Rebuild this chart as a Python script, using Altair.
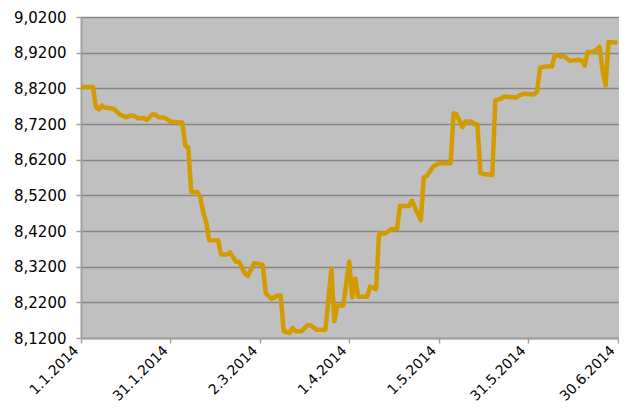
import altair as alt
import pandas as pd

dates = [
    "2014-01-01", "2014-01-05", "2014-01-06", "2014-01-07", "2014-01-08", "2014-01-09",
    "2014-01-12", "2014-01-14", "2014-01-16", "2014-01-18", "2014-01-19", "2014-01-20",
    "2014-01-22", "2014-01-23", "2014-01-25", "2014-01-26", "2014-01-27", "2014-01-29",
    "2014-01-31", "2014-02-03", "2014-02-04", "2014-02-05", "2014-02-06", "2014-02-07",
    "2014-02-09", "2014-02-10", "2014-02-11", "2014-02-12", "2014-02-13", "2014-02-16",
    "2014-02-17", "2014-02-19", "2014-02-20", "2014-02-22", "2014-02-23", "2014-02-25",
    "2014-02-26", "2014-02-28", "2014-03-01", "2014-03-03", "2014-03-04", "2014-03-06",
    "2014-03-08", "2014-03-09", "2014-03-10", "2014-03-12", "2014-03-13", "2014-03-14",
    "2014-03-16", "2014-03-18", "2014-03-19", "2014-03-21", "2014-03-24", "2014-03-26",
    "2014-03-27", "2014-03-28", "2014-03-30", "2014-04-01", "2014-04-02", "2014-04-03",
    "2014-04-04", "2014-04-07", "2014-04-08", "2014-04-10", "2014-04-11", "2014-04-13",
    "2014-04-15", "2014-04-17", "2014-04-18", "2014-04-21", "2014-04-22", "2014-04-25",
    "2014-04-26", "2014-04-27", "2014-04-29", "2014-05-01", "2014-05-05", "2014-05-06",
    "2014-05-07", "2014-05-09", "2014-05-10", "2014-05-12", "2014-05-13", "2014-05-14",
    "2014-05-15", "2014-05-16", "2014-05-19", "2014-05-20", "2014-05-22", "2014-05-23",
    "2014-05-27", "2014-05-28", "2014-05-30", "2014-06-02", "2014-06-03", "2014-06-04",
    "2014-06-06", "2014-06-08", "2014-06-09", "2014-06-11", "2014-06-12", "2014-06-14",
    "2014-06-17", "2014-06-18", "2014-06-19", "2014-06-20", "2014-06-22", "2014-06-24",
    "2014-06-25", "2014-06-26", "2014-06-27", "2014-06-30",
]
values = [
    8.824, 8.824, 8.768, 8.761, 8.772, 8.766,
    8.763, 8.747, 8.739, 8.744, 8.742, 8.736,
    8.737, 8.731, 8.747, 8.746, 8.739, 8.738,
    8.727, 8.724, 8.724, 8.659, 8.654, 8.529,
    8.529, 8.515, 8.473, 8.445, 8.394, 8.394,
    8.354, 8.354, 8.360, 8.334, 8.334, 8.301,
    8.294, 8.329, 8.329, 8.324, 8.245, 8.230,
    8.239, 8.239, 8.139, 8.134, 8.148, 8.139,
    8.139, 8.156, 8.156, 8.143, 8.143, 8.315,
    8.167, 8.211, 8.211, 8.334, 8.234, 8.287,
    8.236, 8.236, 8.264, 8.257, 8.413, 8.413,
    8.425, 8.425, 8.490, 8.490, 8.505, 8.450,
    8.571, 8.574, 8.599, 8.610, 8.610, 8.750,
    8.747, 8.711, 8.727, 8.727, 8.719, 8.719,
    8.583, 8.580, 8.577, 8.786, 8.791, 8.797,
    8.794, 8.800, 8.805, 8.803, 8.811, 8.878,
    8.881, 8.881, 8.914, 8.909, 8.911, 8.897,
    8.900, 8.898, 8.884, 8.922, 8.922, 8.936,
    8.870, 8.828, 8.950, 8.948,
]

x_ticks = ["2014-01-01", "2014-01-31", "2014-03-02", "2014-04-01",
           "2014-05-01", "2014-05-31", "2014-06-30"]
y_ticks = [8.12, 8.22, 8.32, 8.42, 8.52, 8.62, 8.72, 8.82, 8.92, 9.02]

df = pd.DataFrame({"date": dates, "value": values})


def dt(s, hours=0):
    y, m, d = (int(p) for p in s.split("-"))
    return alt.DateTime(year=y, month=m, date=d, hours=hours, utc=True)


FONT = "DejaVu Sans"

chart = alt.Chart(df).mark_line(
    color="#d29c00", strokeWidth=4.5, strokeJoin="round", strokeCap="butt"
).encode(
    x=alt.X(
        "date:T",
        scale=alt.Scale(type="utc", domain=[dt("2014-01-01"), dt("2014-06-30", 12)]),
        axis=alt.Axis(
            title=None,
            values=[dt(s) for s in x_ticks],
            labelExpr="utcFormat(datum.value, '%-d.%-m.%Y')",
            labelAngle=-45,
            labelAlign="right",
            labelBaseline="bottom",
            labelFont=FONT,
            labelFontSize=14,
            labelColor="#000000",
            labelPadding=10,
            grid=False,
            domainColor="#a0a0a0",
            domainWidth=2,
            tickColor="#a0a0a0",
            tickWidth=1.5,
            tickSize=5,
            labelOverlap=False,
            labelBound=False,
        ),
    ),
    y=alt.Y(
        "value:Q",
        scale=alt.Scale(domain=[8.12, 9.02], nice=False, zero=False),
        axis=alt.Axis(
            title=None,
            values=y_ticks,
            labelExpr="replace(format(datum.value, '.4f'), '.', ',')",
            labelFont=FONT,
            labelFontSize=15,
            labelColor="#000000",
            labelPadding=10,
            grid=True,
            gridColor="#868686",
            gridWidth=1.5,
            domainColor="#a0a0a0",
            domainWidth=2,
            tickColor="#a0a0a0",
            tickWidth=1.5,
            tickSize=5,
            labelOverlap=False,
        ),
    ),
).properties(
    width=538,
    height=321,
    padding={"left": 73, "top": 9, "right": 0, "bottom": 68},
    autosize=alt.AutoSizeParams(type="none"),
    background="#ffffff",
).configure_view(
    fill="#c0c0c0", stroke=None
)

chart.save("out.html", embed_options={"renderer": "svg", "actions": False})
